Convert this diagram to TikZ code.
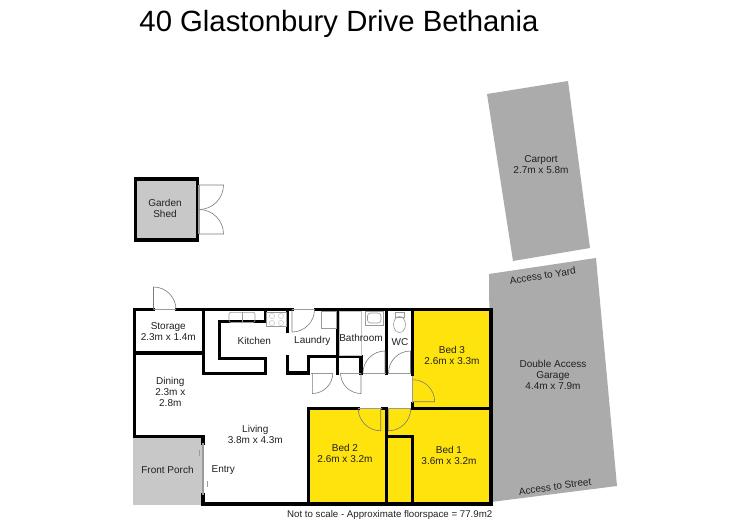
\documentclass[tikz,border=0pt]{standalone}
\usepackage{fontspec}
\setmainfont{Liberation Sans}
\usetikzlibrary{positioning}
\definecolor{bedyellow}{HTML}{FFE30D}
\definecolor{garagegray}{HTML}{ABABAB}
\definecolor{porchgray}{HTML}{C8C8C8}
\definecolor{fixgray}{HTML}{9A9A9A}
\definecolor{labelgray}{HTML}{202020}

\begin{document}
\begin{tikzpicture}[x=1pt, y=-1pt, font=\fontsize{10}{11}\selectfont,
    wall/.style={draw=black, line width=3.2pt, line cap=rect, line join=miter},
    opening/.style={draw=fixgray, line width=1.3pt},
    fixture/.style={draw=fixgray, line width=0.6pt},
    doorleaf/.style={draw=fixgray!80!black, line width=0.6pt},
    room/.style={align=center, text=labelgray, inner sep=0pt},
    ]
    \useasboundingbox (0,0) rectangle (750,530);

    % Title
    \node[room, font=\fontsize{29.3}{32}\selectfont, text=black] (title) at (339,24) {40 Glastonbury Drive Bethania};

    % Carport and garage
    \fill[garagegray] (487,94) -- (568,81) -- (590,248) -- (513,261) -- cycle;
    \fill[garagegray] (489,274) -- (596,258) -- (617,486) -- (491,502) -- cycle;

    % Floor fills
    \fill[bedyellow] (412.7,309.5) rectangle (491,408.3);
    \fill[bedyellow] (308.3,408.3) rectangle (491,504);
    \fill[porchgray] (133,436.7) rectangle (203,505);

    % Garden shed
    \node[draw=black, line width=3.2pt, fill=porchgray, minimum width=62pt, minimum height=61pt, inner sep=0pt] (shed) at (166.5,209.5) {};
    \draw[opening] (199,185) -- (199,234);

    % Outer walls
    \draw[wall] (153,309.5) -- (134.5,309.5) -- (134.5,436.7) -- (203,436.7) -- (203,443);
    \draw[wall] (203,495) -- (203,504) -- (491,504) -- (491,309.5) -- (315.5,309.5);
    \draw[wall] (292,309.5) -- (176.5,309.5);

    % Storage and kitchen walls
    \draw[wall] (134.5,353) -- (203.5,353);
    \draw[wall] (203.5,309.5) -- (203.5,373.5) -- (265.7,373.5) -- (265.7,358.7) -- (219.5,358.7) -- (219.5,321.7) -- (265.7,321.7) -- (265.7,309.5);
    \draw[wall] (287.7,309.5) -- (287.7,331.7);

    % Laundry and bathroom walls
    \draw[wall] (287.7,356.7) -- (287.7,373) -- (308.3,373) -- (308.3,356.5) -- (361,356.5) -- (361,373);
    \draw[wall] (337.5,309.5) -- (337.5,373);
    \draw[wall] (386.7,309.5) -- (386.7,373);
    \draw[wall] (412.7,309.5) -- (412.7,374);
    \draw[wall] (412.7,404) -- (412.7,408.3) -- (491,408.3);

    % Bedroom walls
    \draw[wall] (358,408.3) -- (308.3,408.3) -- (308.3,504);
    \draw[wall] (383,408.3) -- (386.7,408.3) -- (386.7,504);
    \draw[wall] (386.7,436.7) -- (412.7,436.7) -- (412.7,504);

    % Openings
    \draw[opening] (153.5,309.5) -- (176,309.5);
    \draw[opening] (292,309.5) -- (315,309.5);
    \draw[opening] (203,443) -- (203,495);
    \draw[opening] (412.7,376) -- (412.7,403);
    \draw[opening] (358,408.3) -- (382,408.3);
    \draw[opening] (388.5,408.3) -- (411,408.3);
    \foreach \xa/\xb in {311/332.5, 340/361, 362.7/385.5, 388.3/411} {
      \draw[opening, line width=1pt] (\xa,373.3) -- (\xb,373.3);
    }

    % Doors
    \foreach \hx/\hy/\ang/\swing/\rad in {153.5/309.5/90/-90/22.5, 292/309.5/270/90/22.5,
        312.3/373/270/90/20.5, 361/373/270/-90/20.5, 385/373/90/90/22, 410.5/373/90/90/22,
        412.7/401.7/0/90/22, 380.7/408.3/270/-90/22.5, 388.3/408.3/270/90/22.5,
        199/185/0/-90/24.5, 199/234/0/90/24.5} {
      \draw[doorleaf] (\hx,\hy) -- ++(\ang:\rad pt) arc[start angle=\ang, delta angle=\swing, radius=\rad pt];
    }

    % Sliding entry door
    \draw[fixture] (199.3,450) -- (199.3,456);
    \draw[fixture] (207.3,481) -- (207.3,487);

    % Kitchen fixtures
    \draw[fixture, rounded corners=2pt] (229,312.3) rectangle (255,322.5);
    \draw[fixture] (242,312.3) -- (242,322.5);
    \draw[fixture] (266.7,312.3) rectangle (286,326.7);
    \foreach \cx/\cy in {272/316, 281/316, 272/323, 281/323} {
      \draw[fixture, draw=fixgray!50] (\cx,\cy) circle[radius=2.6pt];
    }

    % Laundry and bathroom fixtures
    \draw[fixture] (321.7,311.7) rectangle (336,328);
    \draw[fixture, draw=fixgray!60] (339.3,311.7) rectangle (361.7,355);
    \draw[fixture] (365,311.7) rectangle (383.3,325);
    \draw[fixture, rounded corners=3pt] (367.5,313) rectangle (381,323);
    \draw[fixture] (395,312) rectangle (404,317);
    \draw[fixture] (399.5,324.5) ellipse[x radius=6pt, y radius=8pt];

    % Room labels
    \node[room] (gardenshed) at (165,208.2) {Garden\\Shed};
    \node[room] (storage) at (168.3,331.7) {Storage\\2.3m x 1.4m};
    \node[room] (kitchen) at (254.3,341) {Kitchen};
    \node[room] (laundry) at (312.3,340.7) {Laundry};
    \node[room] (bathroom) at (361,338) {Bathroom};
    \node[room] (wc) at (400,342) {WC};
    \node[room] (bed3) at (452,355.8) {Bed 3\\2.6m x 3.3m};
    \node[room] (dining) at (170.3,392) {Dining\\2.3m x\\2.8m};
    \node[room] (living) at (255.3,434.5) {Living\\3.8m x 4.3m};
    \node[room] (porch) at (167.5,470) {Front Porch};
    \node[room] (entry) at (223.3,470) {Entry};
    \node[room] (bed2) at (345,453.7) {Bed 2\\2.6m x 3.2m};
    \node[room] (bed1) at (449,455.5) {Bed 1\\3.6m x 3.2m};
    \node[room] (carport) at (541,164.7) {Carport\\2.7m x 5.8m};
    \node[room] (garage) at (553,375) {Double Access\\Garage\\4.4m x 7.9m};
    \node[room, rotate=9] (yard) at (542.7,275.7) {Access to Yard};
    \node[room, rotate=8] (street) at (555,486.7) {Access to Street};
    \node[room, font=\fontsize{9.7}{11}\selectfont] (floorspace) at (389.7,515) {Not to scale - Approximate floorspace = 77.9m2};
\end{tikzpicture}
\end{document}
